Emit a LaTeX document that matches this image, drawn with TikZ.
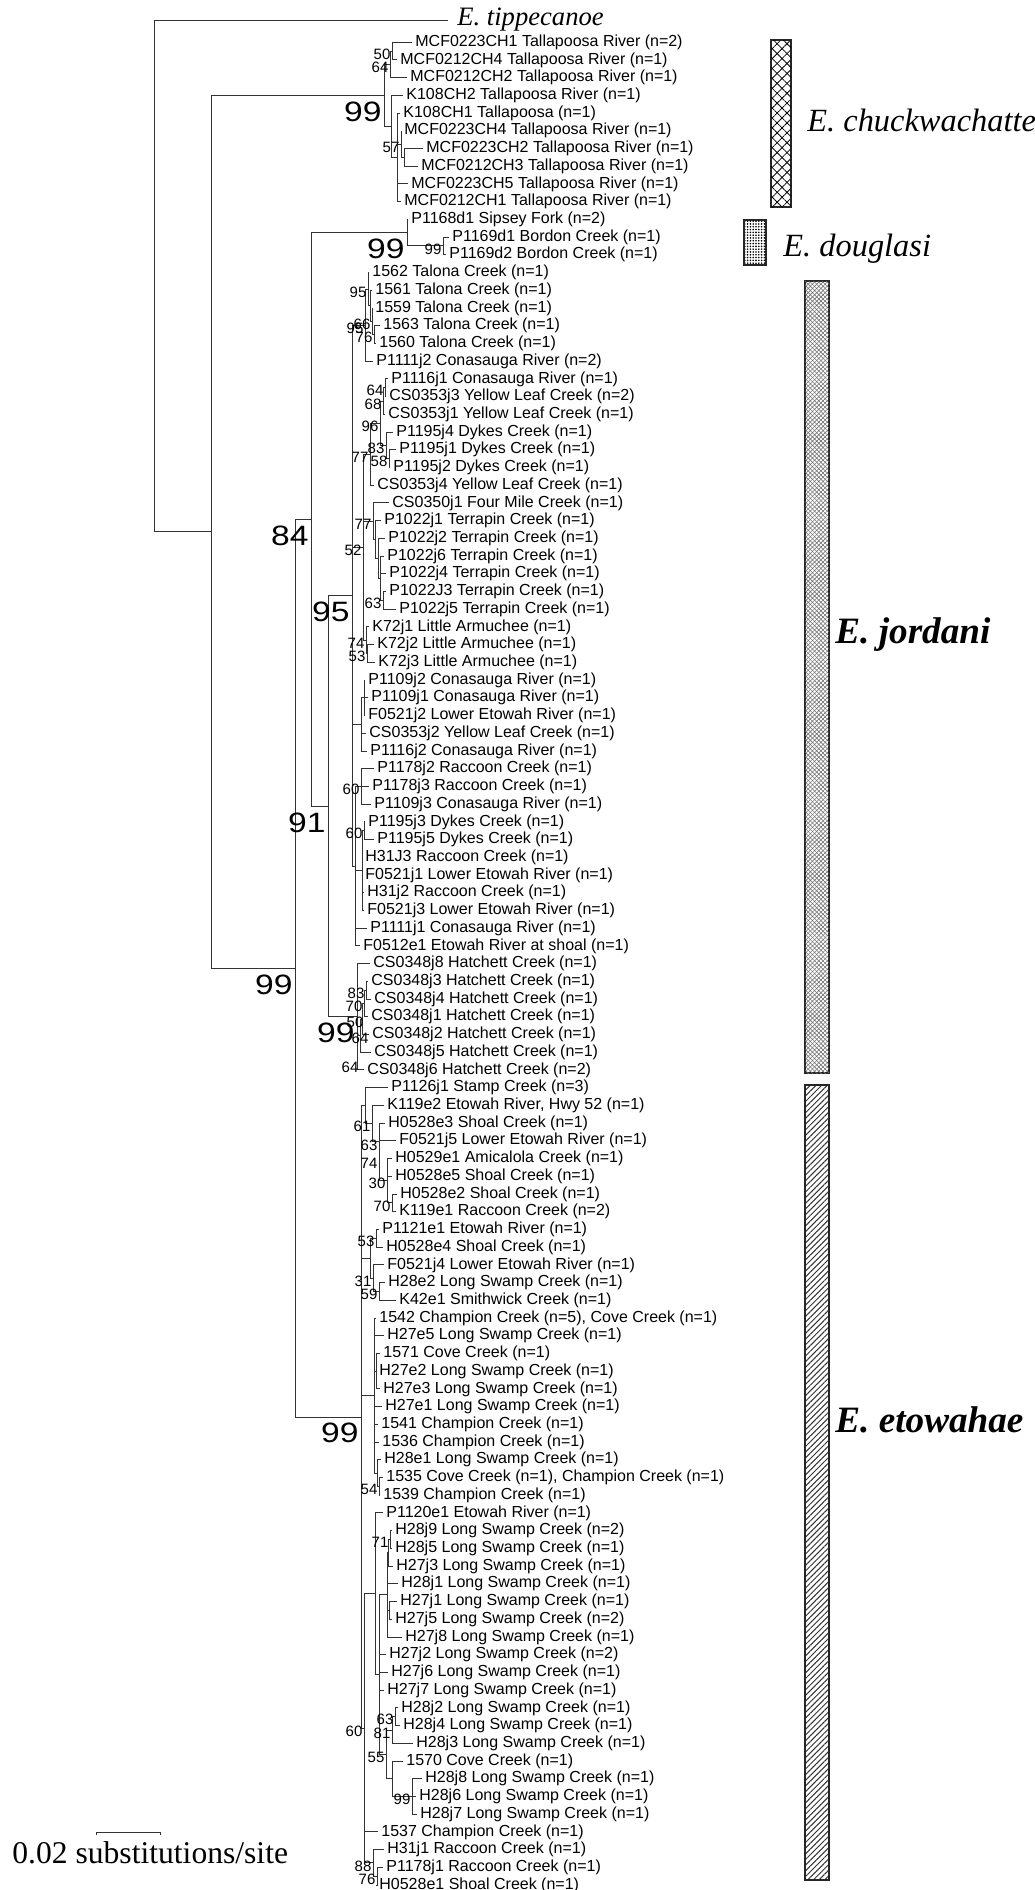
\documentclass[tikz,border=0pt]{standalone}
\usepackage{graphicx}
\usepackage{fontspec}
\setmainfont{Liberation Serif}
\setsansfont{Liberation Sans}
\usetikzlibrary{calc,patterns.meta}
\tikzset{
  br/.style={draw=black!80, line width=0.5pt},
  lbl/.style={anchor=west, inner sep=1.5pt, font=\sffamily\fontsize{8}{9}\selectfont},
  bs/.style={anchor=east, inner sep=0.6pt, yshift=-1.5pt, font=\sffamily\fontsize{7.5}{8}\selectfont},
  bsbig/.style={anchor=north east, inner sep=1pt, yshift=-2pt, font=\sffamily\fontsize{14}{14}\selectfont},
  spp/.style={anchor=west, inner sep=0pt, font=\itshape\fontsize{16.2}{17}\selectfont},
  sppbig/.style={spp, font=\bfseries\itshape\fontsize{18.6}{20}\selectfont},
  bar/.style={draw=black!85, line width=0.6pt}
}
% clade: name, x of the node, children (first and last give the height)
\newcommand\clade[3]{%
  \foreach \k [count=\i] in {#3}{\ifnum\i=1 \xdef\cfirst{\k}\fi\xdef\clast{\k}}%
  \coordinate (#1m) at ($(\cfirst)!.5!(\clast)$);
  \coordinate (#1x) at (#2,0);
  \coordinate (#1) at (#1x |- #1m);
  \foreach \k in {#3} \draw[br] (#1) |- (\k);
}

\begin{document}
\begin{tikzpicture}[x=0.5pt, y=-0.5pt]
\useasboundingbox (0,0) rectangle (1034,1890);

% terminal taxa: row / tip / label
\foreach \r/\x/\t in {
 0/412/MCF0223CH1 Tallapoosa River (n=2), 1/397/MCF0212CH4 Tallapoosa River (n=1),
 2/407/MCF0212CH2 Tallapoosa River (n=1), 3/403/K108CH2 Tallapoosa River (n=1),
 4/400/K108CH1 Tallapoosa (n=1), 5/401/MCF0223CH4 Tallapoosa River (n=1),
 6/423/MCF0223CH2 Tallapoosa River (n=1), 7/418/MCF0212CH3 Tallapoosa River (n=1),
 8/408/MCF0223CH5 Tallapoosa River (n=1), 9/401/MCF0212CH1 Tallapoosa River (n=1),
 10/408/P1168d1 Sipsey Fork (n=2), 11/449/P1169d1 Bordon Creek (n=1),
 12/446/P1169d2 Bordon Creek (n=1), 13/369/1562 Talona Creek (n=1),
 14/372/1561 Talona Creek (n=1), 15/372/1559 Talona Creek (n=1),
 16/380/1563 Talona Creek (n=1), 17/376/1560 Talona Creek (n=1),
 18/373/P1111j2 Conasauga River (n=2), 19/388/P1116j1 Conasauga River (n=1),
 20/386/CS0353j3 Yellow Leaf Creek (n=2), 21/385/CS0353j1 Yellow Leaf Creek (n=1),
 22/393/P1195j4 Dykes Creek (n=1), 23/396/P1195j1 Dykes Creek (n=1),
 24/390/P1195j2 Dykes Creek (n=1), 25/374/CS0353j4 Yellow Leaf Creek (n=1),
 26/389/CS0350j1 Four Mile Creek (n=1), 27/381/P1022j1 Terrapin Creek (n=1),
 28/385/P1022j2 Terrapin Creek (n=1), 29/384/P1022j6 Terrapin Creek (n=1),
 30/386/P1022j4 Terrapin Creek (n=1), 31/386/P1022J3 Terrapin Creek (n=1),
 32/396/P1022j5 Terrapin Creek (n=1), 33/369/K72j1 Little Armuchee (n=1),
 34/374/K72j2 Little Armuchee (n=1), 35/375/K72j3 Little Armuchee (n=1),
 36/365/P1109j2 Conasauga River (n=1), 37/368/P1109j1 Conasauga River (n=1),
 38/365/F0521j2 Lower Etowah River (n=1), 39/366/CS0353j2 Yellow Leaf Creek (n=1),
 40/367/P1116j2 Conasauga River (n=1), 41/374/P1178j2 Raccoon Creek (n=1),
 42/369/P1178j3 Raccoon Creek (n=1), 43/371/P1109j3 Conasauga River (n=1),
 44/365/P1195j3 Dykes Creek (n=1), 45/374/P1195j5 Dykes Creek (n=1),
 46/362/H31J3 Raccoon Creek (n=1), 47/362/F0521j1 Lower Etowah River (n=1),
 48/364/H31j2 Raccoon Creek (n=1), 49/364/F0521j3 Lower Etowah River (n=1),
 50/367/P1111j1 Conasauga River (n=1), 51/360/F0512e1 Etowah River at shoal (n=1),
 52/370/CS0348j8 Hatchett Creek (n=1), 53/368/CS0348j3 Hatchett Creek (n=1),
 54/371/CS0348j4 Hatchett Creek (n=1), 55/368/CS0348j1 Hatchett Creek (n=1),
 56/369/CS0348j2 Hatchett Creek (n=1), 57/371/CS0348j5 Hatchett Creek (n=1),
 58/364/CS0348j6 Hatchett Creek (n=2), 59/388/P1126j1 Stamp Creek (n=3),
 60/384/{K119e2 Etowah River, Hwy 52 (n=1)}, 61/385/H0528e3 Shoal Creek (n=1),
 62/396/F0521j5 Lower Etowah River (n=1), 63/392/H0529e1 Amicalola Creek (n=1),
 64/392/H0528e5 Shoal Creek (n=1), 65/397/H0528e2 Shoal Creek (n=1),
 66/396/K119e1 Raccoon Creek (n=2), 67/379/P1121e1 Etowah River (n=1),
 68/383/H0528e4 Shoal Creek (n=1), 69/384/F0521j4 Lower Etowah River (n=1),
 70/385/H28e2 Long Swamp Creek (n=1), 71/396/K42e1 Smithwick Creek (n=1),
 72/376/{1542 Champion Creek (n=5), Cove Creek (n=1)}, 73/384/H27e5 Long Swamp Creek (n=1),
 74/380/1571 Cove Creek (n=1), 75/376/H27e2 Long Swamp Creek (n=1),
 76/380/H27e3 Long Swamp Creek (n=1), 77/382/H27e1 Long Swamp Creek (n=1),
 78/378/1541 Champion Creek (n=1), 79/379/1536 Champion Creek (n=1),
 80/381/H28e1 Long Swamp Creek (n=1), 81/383/{1535 Cove Creek (n=1), Champion Creek (n=1)},
 82/380/1539 Champion Creek (n=1), 83/383/P1120e1 Etowah River (n=1),
 84/392/H28j9 Long Swamp Creek (n=2), 85/392/H28j5 Long Swamp Creek (n=1),
 86/393/H27j3 Long Swamp Creek (n=1), 87/398/H28j1 Long Swamp Creek (n=1),
 88/397/H27j1 Long Swamp Creek (n=1), 89/392/H27j5 Long Swamp Creek (n=2),
 90/402/H27j8 Long Swamp Creek (n=1), 91/386/H27j2 Long Swamp Creek (n=2),
 92/388/H27j6 Long Swamp Creek (n=1), 93/384/H27j7 Long Swamp Creek (n=1),
 94/398/H28j2 Long Swamp Creek (n=1), 95/400/H28j4 Long Swamp Creek (n=1),
 96/413/H28j3 Long Swamp Creek (n=1), 97/403/1570 Cove Creek (n=1),
 98/422/H28j8 Long Swamp Creek (n=1), 99/416/H28j6 Long Swamp Creek (n=1),
 100/417/H28j7 Long Swamp Creek (n=1), 101/378/1537 Champion Creek (n=1),
 102/384/H31j1 Raccoon Creek (n=1), 103/383/P1178j1 Raccoon Creek (n=1),
 104/376/H0528e1 Shoal Creek (n=1)}
 { \coordinate (l\r) at (\x,{42.2+17.72*\r}); \node[lbl] (t\r) at (l\r) {\t}; }

% E. chuckwachatte
\clade{a1}{392}{l0,l1} \clade{a}{390}{a1,l2}
\clade{b3}{404}{l6,l7} \clade{b2}{401}{l5,b3} \clade{b1}{397}{l4,b2,l8,l9}
\clade{b}{391}{l3,b1} \clade{tal}{384}{a,b}
% E. douglasi
\clade{bor}{443}{l11,l12} \clade{dou}{407}{l10,bor}
% E. jordani
\clade{tal4}{374}{l16,l17} \clade{tal3}{372}{l15,tal4} \clade{tal2}{370}{l14,tal3}
\clade{tln}{368}{l13,tal2} \clade{tg}{365}{tln,l18}
\clade{y2a}{385}{l19,l20} \clade{y2}{383}{y2a,l21}
\clade{y3a}{389}{l23,l24} \clade{y3}{386}{l22,y3a}
\clade{y1}{380}{y2,y3} \clade{yl}{370}{y1,l25}
\clade{z4}{383}{l31,l32} \clade{z3}{380}{l29,l30,z4} \clade{z2}{378}{l28,z3}
\clade{z1}{375}{l27,z2} \clade{zt}{373}{l26,z1}
\clade{k2}{367}{l34,l35} \clade{ka}{366}{l33,k2}
\clade{ja}{363}{yl,zt,ka}
\clade{jb1a}{364}{l36,l37,l38} \clade{jb1}{361}{jb1a,l39,l40}
\clade{jb2}{361}{l41,l42,l43}
\clade{jb3a}{364}{l44,l45} \clade{jb3}{362}{jb3a,l46,l47,l48,l49}
\clade{jm}{355}{jb2,jb3,l50,l51} \clade{n95}{352}{tg,ja,jb1,jm}
\clade{h83}{366}{l53,l54} \clade{h70}{364}{h83,l55} \clade{h50}{362}{h70,l56}
\clade{h64}{360}{h50,l57} \clade{hat}{357}{l52,h64,l58}
% E. etowahae
\clade{e70}{392}{l65,l66} \clade{e30}{387}{l63,l64,e70}
\clade{e74}{379}{l62,e30} \clade{e63}{379}{l61,e74}
\clade{e61}{372}{l60,e63} \clade{ea}{365}{l59,e61}
\clade{g53}{376}{l67,l68} \clade{g59}{379}{l70,l71} \clade{g31}{373}{l69,g59}
\clade{g}{370}{g53,g31}
\clade{eb1a}{376}{l74,l75,l76} \clade{n54}{379}{l81,l82} \clade{n377}{377}{l80,n54}
\clade{eb1}{374}{l72,l73,eb1a,l77,l78,l79,n377}
\clade{c71}{390}{l84,l85} \clade{c88}{388}{c71,l86} \clade{c89}{389}{l88,l89}
\clade{c87}{387}{c88,l87,c89,l90} \clade{c79b}{379}{l91,l92}
\clade{c63}{395}{l94,l95} \clade{c81}{392}{c63,l96}
\clade{c99}{412}{l98,l99,l100} \clade{cx}{392}{l97,c99} \clade{c55}{386}{c81,cx}
\clade{c79}{379}{c87,c79b,l93,c55} \clade{c74}{375}{l83,c79}
\clade{ec1}{377}{l103,l104} \clade{ec}{373}{l102,ec1}
\clade{e60}{364}{c74,l101,ec}
\clade{eto}{361}{ea,g,eb1,e60}
% backbone
\clade{n91}{328}{n95,hat} \clade{n84}{311}{dou,n91}
\clade{n99}{295}{n84,eto} \clade{ing}{211}{tal,n99}
\coordinate (tipp) at (448,20);
\clade{root}{154}{tipp,ing}

% bootstrap values
\foreach \n/\v in {a1/50, a/64, b2/57, bor/99, tln/95, tg/95, tal3/66, tal4/76,
  y2a/64, y2/68, y1/96, y3/83, y3a/58, yl/77, zt/77, z4/63, ja/52, ka/74, k2/53,
  jb2/60, jb3a/60, h83/83, h70/70, e61/61, e63/63, e74/74, e30/30,
  e70/70, g53/53, g31/31, g59/59, n54/54, c71/71, c63/63, c81/81, c55/55, c99/99,
  e60/60, ec/88, ec1/76}
  \node[bs] (s\n) at (\n) {\v};
\node[bs, xshift=1.5pt] (sh50) at (h50) {50};
\node[bs, xshift=5pt] (sh64) at (h64) {64};
\node[bs] (shat) at (360,1064) {64};
\foreach \n/\v in {tal/99, dou/99, n84/84, n91/91, n95/95, n99/99, hat/99, eto/99}
  \node[bsbig] (b\n) at (\n) {\scalebox{1.2}[1]{\v}};

% taxon names and bars
\node[spp, font=\itshape\fontsize{13.3}{14}\selectfont] (ntip) at ([xshift=4.5pt]tipp) {E. tippecanoe};
\node[spp] (nchk) at (807,120) {E. chuckwachatte};
\node[spp] (ndou) at (783,249) {E. douglasi};
\node[sppbig] (njor) at (835,635) {E. jordani};
\node[sppbig] (neto) at (835,1420) {E. etowahae};
\draw[bar, pattern={Lines[angle=45,distance=3.5pt,line width=0.4pt]}] (771,40) rectangle (791,207);
\fill[pattern={Lines[angle=-45,distance=3.5pt,line width=0.4pt]}] (771,40) rectangle (791,207);
\draw[bar, pattern={Dots[radius=0.45pt,distance=1.4pt]}] (744,220) rectangle (766,265);
\draw[bar, pattern={Lines[angle=45,distance=1.5pt,line width=0.3pt]}, pattern color=black!55] (805,281) rectangle (829,1073);
\fill[pattern={Lines[angle=-45,distance=1.5pt,line width=0.3pt]}, pattern color=black!55] (805,281) rectangle (829,1073);
\draw[bar, pattern={Lines[angle=45,distance=2pt,line width=0.5pt]}, pattern color=black!80] (805,1085) rectangle (829,1880);

% scale bar
\coordinate (sb1) at (96,1832); \coordinate (sb2) at (160,1832);
\draw[br] ([yshift=-1.5pt]sb1) -- (sb1) -- (sb2) -- ([yshift=-1.5pt]sb2);
\node[anchor=west, inner sep=0pt, font=\fontsize{15.8}{16}\selectfont] (sbt) at (12,1853) {0.02 substitutions/site};
\end{tikzpicture}
\end{document}
